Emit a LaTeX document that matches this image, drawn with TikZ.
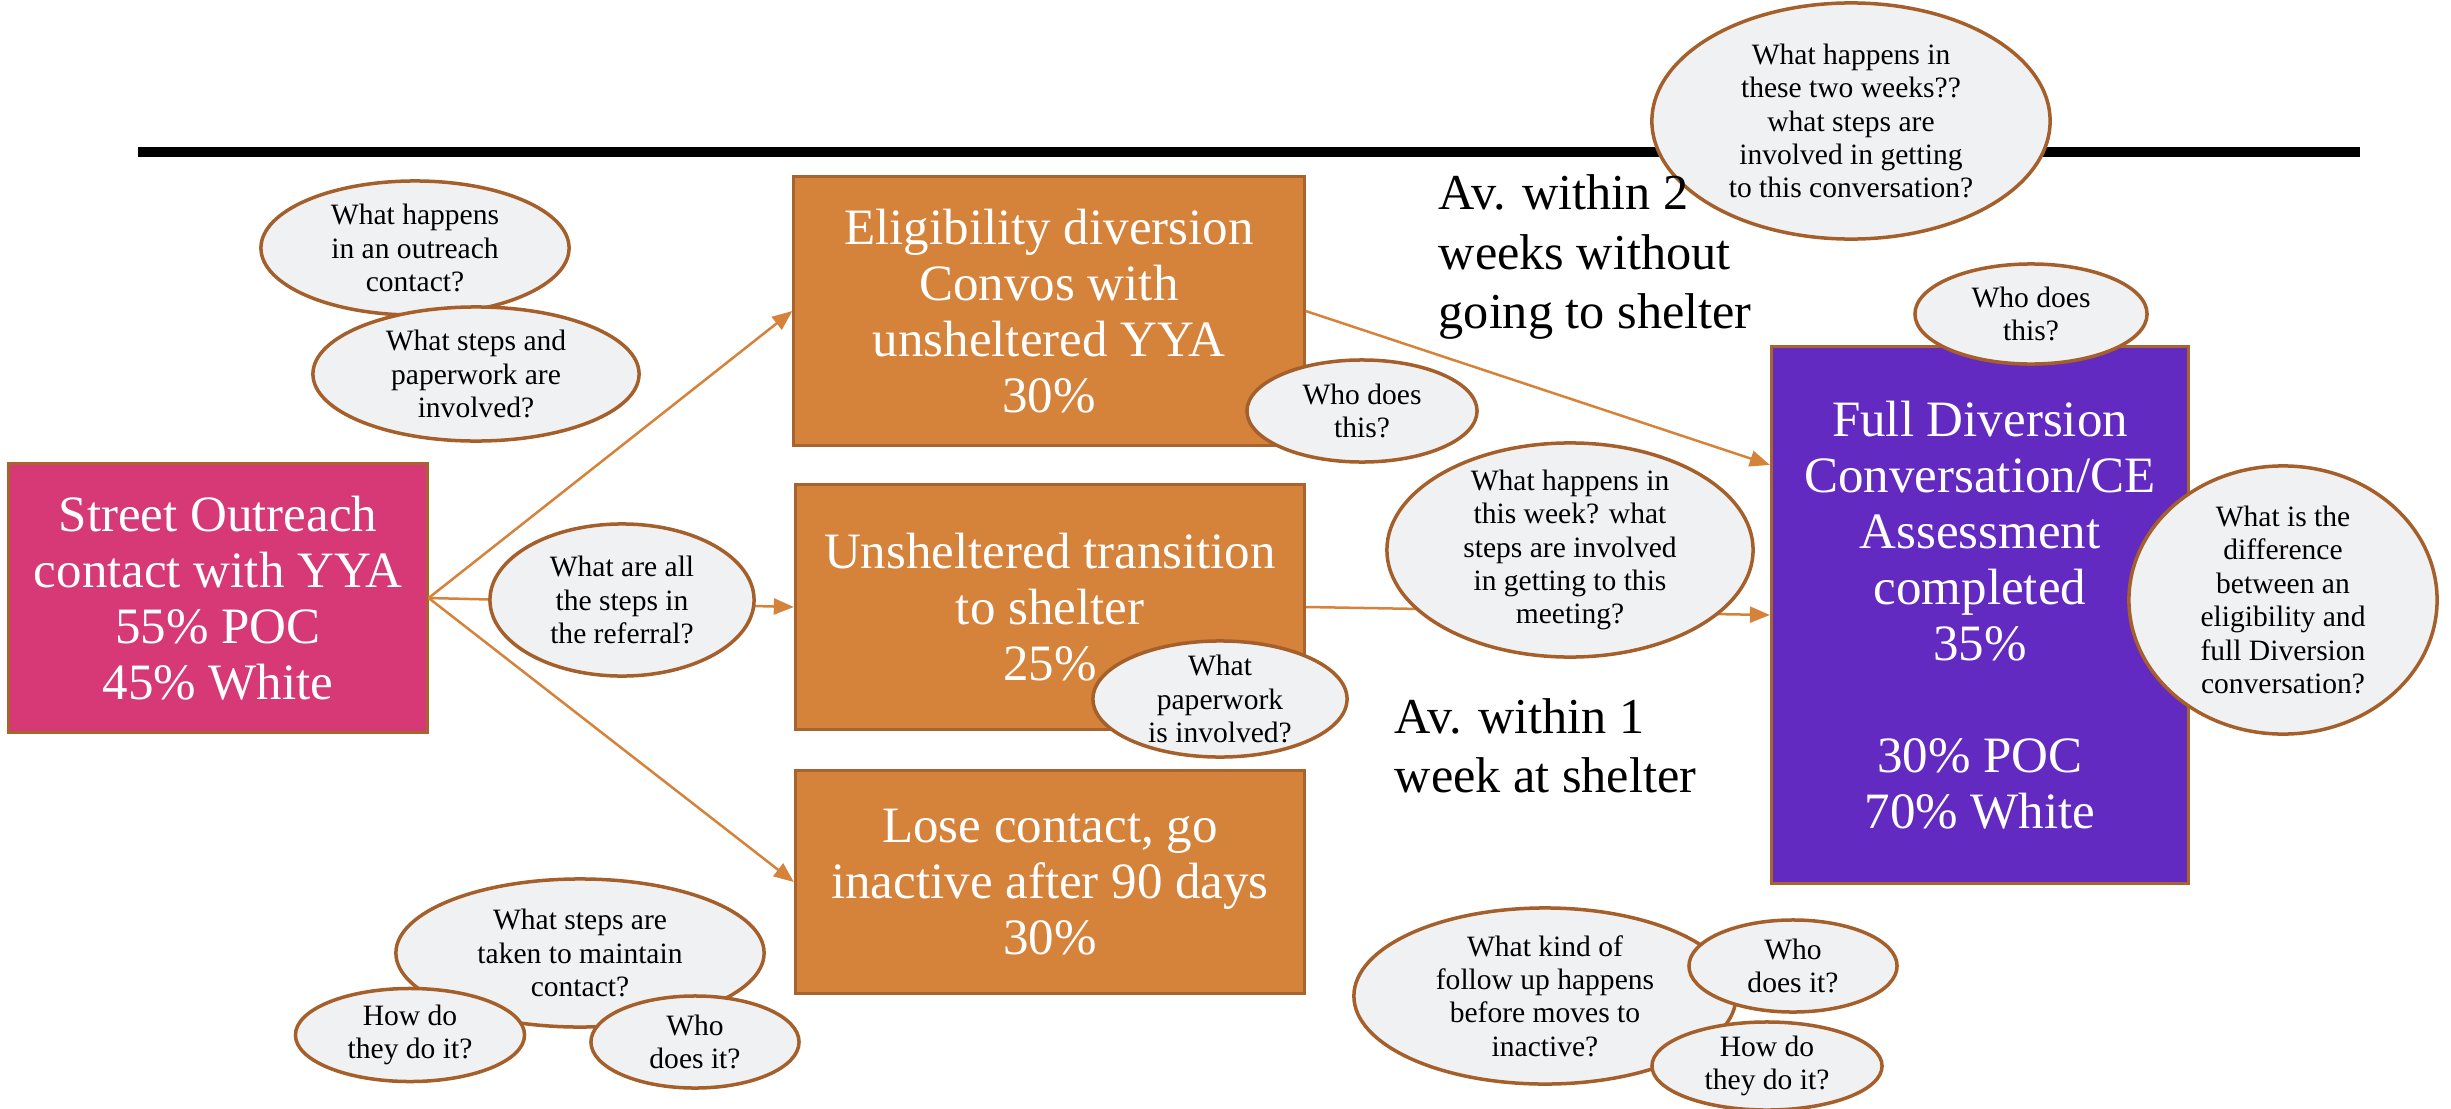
\documentclass[tikz,border=0pt]{standalone}
\usepackage{fontspec}
\setmainfont{Liberation Serif}
\usetikzlibrary{shapes.geometric,arrows.meta}
\definecolor{pinkbox}{HTML}{D63975}
\definecolor{orangebox}{HTML}{D5823B}
\definecolor{purplebox}{HTML}{632AC2}
\definecolor{qfill}{HTML}{F0F1F3}
\definecolor{qborder}{HTML}{A55F2A}
\definecolor{boxborder}{HTML}{A8642E}
\definecolor{conncol}{HTML}{D5823B}
\tikzset{
 box/.style={draw=boxborder, line width=0.03cm, text=white, align=center, inner sep=0pt,
   font=\fontsize{14.5}{15.9}\selectfont},
 qshape/.style={ellipse, draw=qborder, fill=qfill, line width=0.035cm, inner sep=0pt},
 qtext/.style={align=center, inner sep=0pt, font=\fontsize{8.4}{9.5}\selectfont},
 conn/.style={draw=conncol, line width=0.025cm, -{Triangle[length=0.2cm,width=0.16cm]}},
 note/.style={align=left, inner sep=0pt, anchor=west, font=\fontsize{14.3}{16.8}\selectfont}
}
\newcommand{\qbubble}[5]{%
  \node[qshape, minimum width=#3, minimum height=#4] (#1) at #2 {};
  \node[qtext] (#1t) at (#1.center) {#5};}
\begin{document}
\begin{tikzpicture}[x=0.01cm,y=-0.01cm]
\useasboundingbox (0,0) rectangle (2451,1109);
% boxes
\node[box, fill=pinkbox, minimum width=4.18cm, minimum height=2.68cm] (pink) at (218,598)
  {Street Outreach\\contact with YYA\\55\% POC\\45\% White};
\node[box, fill=orangebox, minimum width=5.10cm, minimum height=2.68cm] (b1) at (1049,311)
  {Eligibility diversion\\Convos with\\unsheltered YYA\\30\%};
\node[box, fill=orangebox, minimum width=5.09cm, minimum height=2.45cm] (b2) at (1050,607)
  {Unsheltered transition\\to shelter\\25\%};
\node[box, fill=orangebox, minimum width=5.09cm, minimum height=2.23cm] (b3) at (1050,882)
  {Lose contact, go\\inactive after 90 days\\30\%};
\node[box, fill=purplebox, minimum width=4.17cm, minimum height=5.36cm] (purple) at (1980,615)
  {Full Diversion\\Conversation/CE\\Assessment\\completed\\35\%\\[15.9pt]30\% POC\\70\% White};
% connectors
\draw[conn] (pink.east) -- (b1.west);
\draw[conn] (pink.east) -- (b2.west);
\draw[conn] (pink.east) -- (b3.west);
\draw[conn] (b1.east) -- ([yshift=1.5cm]purple.west);
\draw[conn] (b2.east) -- (purple.west);
% rule
\coordinate (ruleL) at (138,152);
\coordinate (ruleR) at (2360,152);
\draw[line width=0.09cm] (ruleL) -- (ruleR);
% question bubbles
\qbubble{e1}{(415,248)}{3.08cm}{1.34cm}{What happens\\in an outreach\\contact?}
\qbubble{e2}{(476,374)}{3.26cm}{1.34cm}{What steps and\\paperwork are\\involved?}
\qbubble{e3}{(622,600)}{2.64cm}{1.52cm}{What are all\\the steps in\\the referral?}
\qbubble{e4}{(1362,411)}{2.30cm}{1.02cm}{Who does\\this?}
\qbubble{e5}{(1220,699)}{2.54cm}{1.16cm}{What\\paperwork\\is involved?}
\qbubble{e6}{(1570,550)}{3.66cm}{2.14cm}{What happens in\\this week? what\\steps are involved\\in getting to this\\meeting?}
\qbubble{e7}{(1851,121)}{3.98cm}{2.36cm}{What happens in\\these two weeks??\\what steps are\\involved in getting\\to this conversation?}
\qbubble{e8}{(2031,314)}{2.32cm}{1.00cm}{Who does\\this?}
\qbubble{e9}{(2283,600)}{3.08cm}{2.68cm}{What is the\\difference\\between an\\eligibility and\\full Diversion\\conversation?}
\qbubble{e10}{(580,953)}{3.68cm}{1.48cm}{What steps are\\taken to maintain\\contact?}
\qbubble{e11}{(410,1035)}{2.29cm}{0.93cm}{How do\\they do it?}
\qbubble{e12}{(695,1042)}{2.08cm}{0.92cm}{Who\\does it?}
\qbubble{e13}{(1545,996)}{3.82cm}{1.76cm}{What kind of\\follow up happens\\before moves to\\inactive?}
\qbubble{e14}{(1793,966)}{2.08cm}{0.92cm}{Who\\does it?}
\qbubble{e15}{(1767,1066)}{2.30cm}{0.88cm}{How do\\they do it?}
% notes
\node[note] (av2) at (1438,257) {Av. within 2\\weeks without\\going to shelter};
\node[note] (av1) at (1394,746) {Av. within 1\\week at shelter};
\end{tikzpicture}
\end{document}
